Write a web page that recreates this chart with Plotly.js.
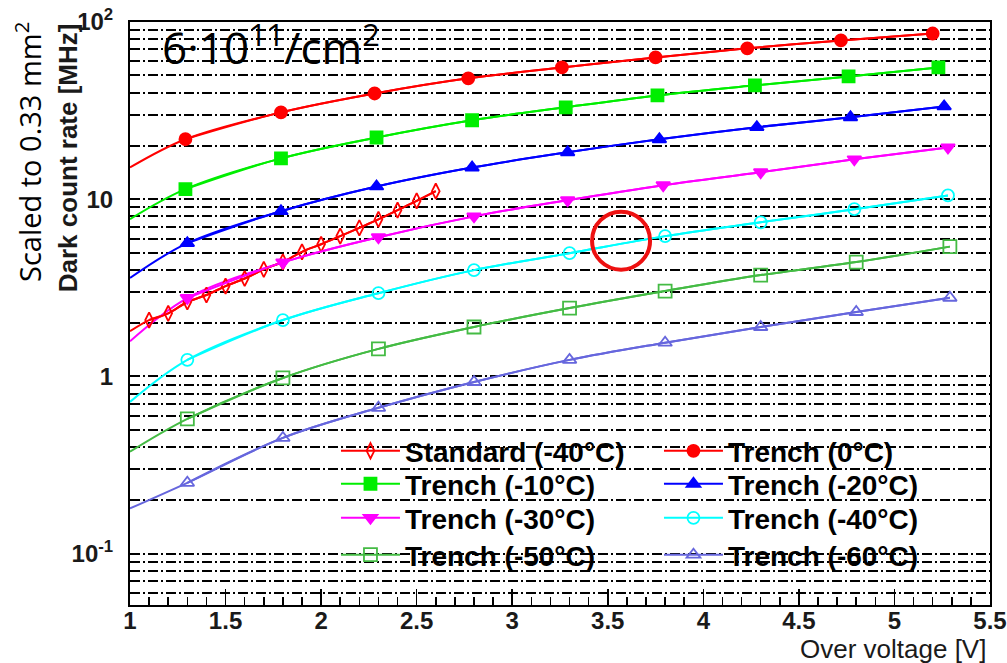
<!DOCTYPE html>
<html>
<head>
<meta charset="utf-8">
<script src="https://cdn.plot.ly/plotly-3.0.1.min.js"></script>
<style>html,body{margin:0;padding:0;background:#fff;}#chart{width:1007px;height:663px;}</style>
</head>
<body>
<div id="chart"></div>
<script>
// ---- data ----
const seriesNames = ["Standard (-40\u00B0C)", "Trench (0\u00B0C)", "Trench (-10\u00B0C)", "Trench (-20\u00B0C)",
                     "Trench (-30\u00B0C)", "Trench (-40\u00B0C)", "Trench (-50\u00B0C)", "Trench (-60\u00B0C)"];

const xStandard = [1.1, 1.2, 1.3, 1.4, 1.5, 1.6, 1.7, 1.8, 1.9, 2.0, 2.1, 2.2, 2.3, 2.4, 2.5, 2.6];
const yStandard = [2.08, 2.27, 2.63, 2.88, 3.23, 3.57, 4.02, 4.43, 5.05, 5.57, 6.19, 6.89, 7.69, 8.67, 9.78, 11.1];

const xT0   = [1.29, 1.79, 2.28, 2.77, 3.26, 3.75, 4.23, 4.72, 5.20];
const yT0   = [21.8, 30.9, 39.5, 48.1, 55.4, 63.1, 71.0, 78.7, 86.1];
const xT10  = [1.29, 1.79, 2.29, 2.79, 3.28, 3.76, 4.27, 4.76, 5.23];
const yT10  = [11.4, 17.0, 22.3, 27.9, 33.0, 38.5, 43.9, 49.3, 55.4];
const xT20  = [1.30, 1.79, 2.29, 2.79, 3.29, 3.77, 4.28, 4.77, 5.26];
const yT20  = [5.65, 8.56, 11.8, 15.1, 18.4, 21.8, 25.5, 29.0, 33.4];
const xT30  = [1.30, 1.80, 2.30, 2.80, 3.29, 3.79, 4.30, 4.79, 5.28];
const yT30  = [2.77, 4.40, 6.10, 8.00, 9.87, 12.0, 14.2, 16.8, 19.6];
const xT40  = [1.30, 1.80, 2.30, 2.80, 3.30, 3.80, 4.30, 4.79, 5.28];
const yT40  = [1.24, 2.08, 2.95, 3.98, 4.96, 6.19, 7.41, 8.78, 10.5];
const xT50  = [1.30, 1.80, 2.30, 2.80, 3.30, 3.80, 4.30, 4.80, 5.29];
const yT50  = [0.576, 0.98, 1.43, 1.90, 2.43, 3.03, 3.73, 4.42, 5.40];
const xT60  = [1.30, 1.80, 2.30, 2.80, 3.30, 3.80, 4.30, 4.80, 5.29];
const yT60  = [0.251, 0.45, 0.665, 0.93, 1.24, 1.55, 1.90, 2.31, 2.78];

// fitted curves start at the left edge (x = 1) with these values
const fitStartX = 1.0;
const fitStartY = [1.80, 15.1, 7.72, 3.59, 1.58, 0.718, 0.376, 0.18];

const yMajorVals = [0.1, 1, 10, 100];
const yMajorText = ["10<sup>-1</sup>", "1", "10", "10<sup>2</sup>"];
const yMinorVals = [0.06, 0.07, 0.08, 0.09, 0.2, 0.3, 0.4, 0.5, 0.6, 0.7, 0.8, 0.9,
                    2, 3, 4, 5, 6, 7, 8, 9, 20, 30, 40, 50, 60, 70, 80, 90];

// ---- styling ----
const xs = [xStandard, xT0, xT10, xT20, xT30, xT40, xT50, xT60];
const ys = [yStandard, yT0, yT10, yT20, yT30, yT40, yT50, yT60];
const colors = ["#ff0000", "#ff0000", "#00ee00", "#0000ff", "#ff00ff", "#00ffff", "#44bb44", "#6666dd"];
const symbols = ["diamond-tall-open", "circle", "square", "triangle-up", "triangle-down", "circle-open", "square-open", "triangle-up-open"];
const sizes = [11, 12, 12, 12, 12, 12, 13, 12];
const legendIds = ["legend", "legend", "legend2", "legend2", "legend3", "legend3", "legend4", "legend4"];

const traces = [];
for (let i = 0; i < xs.length; i++) {
  traces.push({
    x: [fitStartX].concat(xs[i]), y: [fitStartY[i]].concat(ys[i]),
    type: "scatter", mode: "lines", line: {color: colors[i], width: 2, shape: "spline"},
    showlegend: false, hoverinfo: "skip"
  });
}
for (let i = 0; i < xs.length; i++) {
  traces.push({
    x: xs[i], y: ys[i], name: seriesNames[i], legend: legendIds[i],
    type: "scatter", mode: "lines+markers",
    line: {color: colors[i], width: 2, shape: "spline"},
    marker: {symbol: symbols[i], size: sizes[i], color: colors[i], line: {color: colors[i], width: 1.8}}
  });
}

const legendFont = {family: "Liberation Sans, Arial, sans-serif", size: 28, weight: "bold", color: "#000"};
function mkLegend(yPaper) {
  return {orientation: "h", x: 0.2395, xanchor: "left", y: yPaper, yanchor: "middle",
          bgcolor: "rgba(0,0,0,0)", borderwidth: 0, font: legendFont, itemwidth: 59,
          entrywidth: 249, entrywidthmode: "pixels", traceorder: "normal"};
}

const gridStyle = {gridcolor: "#000", gridwidth: 2, griddash: "10px,3px,2px,3px"};
const tickFont = {family: "Liberation Sans, Arial, sans-serif", size: 24, weight: "bold", color: "#1a1a1a"};

const layout = {
  width: 1007, height: 663,
  margin: {l: 130, r: 17, t: 22, b: 58, pad: 0},
  paper_bgcolor: "#fff", plot_bgcolor: "#fff",
  showlegend: true,
  legend: mkLegend(0.2640),
  legend2: mkLegend(0.2075),
  legend3: mkLegend(0.1490),
  legend4: mkLegend(0.0858),
  xaxis: {
    range: [1, 5.5], showgrid: false, zeroline: false,
    showline: true, linecolor: "#000", linewidth: 2, mirror: true,
    ticks: "inside", ticklen: 16, tickwidth: 1.5, tickcolor: "#000",
    tick0: 1, dtick: 0.5, ticklabelstandoff: -7, ticklabeloverflow: "allow",
    minor: {ticks: "inside", ticklen: 8, tickwidth: 1.5, tickcolor: "#000", dtick: 0.1, showgrid: false},
    tickfont: tickFont
  },
  yaxis: {
    type: "log", range: [Math.log10(0.0513), 2],
    tickmode: "array", tickvals: yMajorVals, ticktext: yMajorText,
    showgrid: true, gridcolor: gridStyle.gridcolor, gridwidth: gridStyle.gridwidth, griddash: gridStyle.griddash,
    minor: {tickmode: "array", tickvals: yMinorVals, ticks: "", showgrid: true,
            gridcolor: gridStyle.gridcolor, gridwidth: gridStyle.gridwidth, griddash: gridStyle.griddash},
    zeroline: false, showline: true, linecolor: "#000", linewidth: 2, mirror: true,
    ticks: "", ticklabelstandoff: 10,
    tickfont: {family: "Liberation Sans, Arial, sans-serif", size: 24, weight: "bold", color: "#1a1a1a"}
  },
  annotations: [
    {text: "6\u00B710<sup>11</sup>/cm<sup>2</sup>", xref: "paper", yref: "paper", x: 0.0349, y: 0.9605,
     xanchor: "left", yanchor: "middle", showarrow: false,
     font: {family: "Open Sans, Noto Sans, sans-serif", size: 44, color: "#000"}},
    {text: "Scaled to 0.33 mm<sup>2</sup>", xref: "paper", yref: "paper", x: -0.1186, y: 0.777,
     xanchor: "center", yanchor: "middle", textangle: -90, showarrow: false,
     font: {family: "Open Sans, Noto Sans, sans-serif", size: 29, color: "#000"}},
    {text: "Dark count rate [MHz]", xref: "paper", yref: "paper", x: -0.0721, y: 0.768,
     xanchor: "center", yanchor: "middle", textangle: -90, showarrow: false,
     font: {family: "Liberation Sans, Arial, sans-serif", size: 26, weight: "bold", color: "#1a1a1a"}},
    {text: "Over voltage [V]", xref: "paper", yref: "paper", x: 0.9977, y: -0.0755,
     xanchor: "right", yanchor: "middle", showarrow: false,
     font: {family: "Liberation Sans, Arial, sans-serif", size: 26, color: "#1a1a1a"}}
  ],
  shapes: [
    {type: "circle", xref: "paper", yref: "paper", xsizemode: "pixel", ysizemode: "pixel",
     xanchor: 0.571, yanchor: 0.625, x0: -29, x1: 29, y0: -29, y1: 29,
     line: {color: "#ee1111", width: 4}, fillcolor: "rgba(0,0,0,0)", layer: "above"}
  ]
};

Plotly.newPlot("chart", traces, layout, {displayModeBar: false, staticPlot: true});
</script>
</body>
</html>
